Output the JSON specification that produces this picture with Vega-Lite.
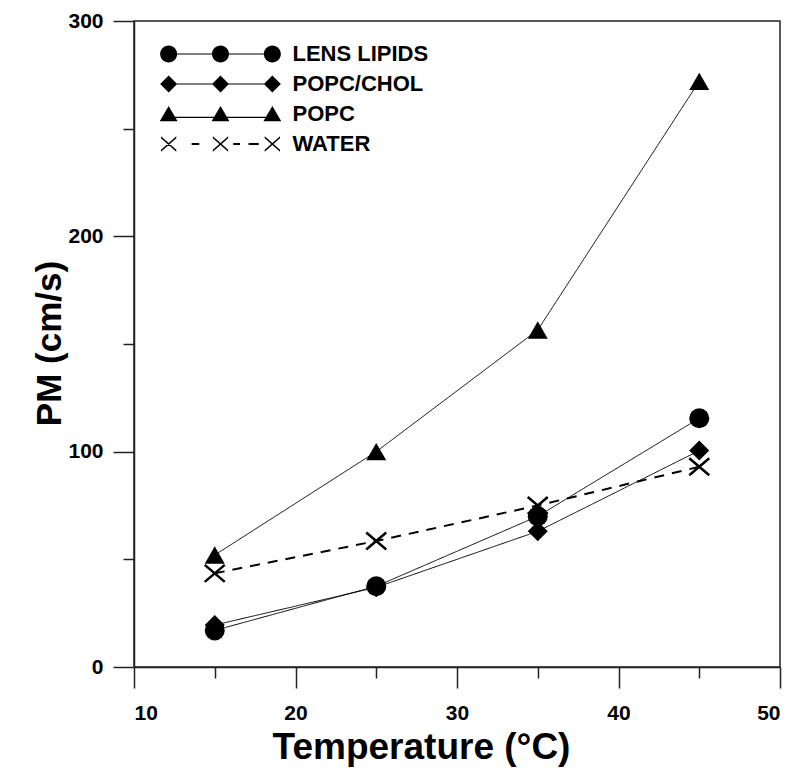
{
  "$schema": "https://vega.github.io/schema/vega-lite/v6.json",
  "width": 646,
  "height": 646,
  "autosize": "none",
  "padding": {"left": 134, "top": 21, "right": 20, "bottom": 105},
  "background": "white",
  "config": {
    "view": {"stroke": "#222222", "strokeWidth": 1.5},
    "font": "Liberation Sans",
    "axis": {
      "domainColor": "#222222", "domainWidth": 1.5,
      "tickColor": "#222222", "tickWidth": 1.5,
      "grid": false,
      "labelFont": "Liberation Sans", "labelFontWeight": "bold", "labelColor": "black", "labelFontSize": 21,
      "titleFont": "Liberation Sans", "titleFontWeight": "bold", "titleColor": "black", "titleFontSize": 35
    }
  },
  "data": {
    "values": [
      {"T": 15, "P": 17, "series": "LENS LIPIDS"},
      {"T": 25, "P": 37.5, "series": "LENS LIPIDS"},
      {"T": 35, "P": 70, "series": "LENS LIPIDS"},
      {"T": 45, "P": 115.5, "series": "LENS LIPIDS"},
      {"T": 15, "P": 19.5, "series": "POPC/CHOL"},
      {"T": 25, "P": 37, "series": "POPC/CHOL"},
      {"T": 35, "P": 63, "series": "POPC/CHOL"},
      {"T": 45, "P": 100.5, "series": "POPC/CHOL"},
      {"T": 15, "P": 52, "series": "POPC"},
      {"T": 25, "P": 100, "series": "POPC"},
      {"T": 35, "P": 156.5, "series": "POPC"},
      {"T": 45, "P": 272, "series": "POPC"},
      {"T": 15, "P": 43.5, "series": "WATER"},
      {"T": 25, "P": 58.5, "series": "WATER"},
      {"T": 35, "P": 75, "series": "WATER"},
      {"T": 45, "P": 93, "series": "WATER"}
    ]
  },
  "layer": [
    {
      "mark": {"type": "point", "opacity": 0},
      "encoding": {
        "x": {"field": "T", "type": "quantitative", "scale": {"domain": [10, 50], "nice": false, "zero": false},
              "axis": {"orient": "bottom", "values": [15, 25, 35, 45], "labels": false, "domain": false, "tickSize": 11, "title": null}},
        "y": {"field": "P", "type": "quantitative", "scale": {"domain": [0, 300], "nice": false},
              "axis": {"orient": "left", "values": [50, 150, 250], "labels": false, "domain": false, "tickSize": 11, "title": null}}
      }
    },
    {
      "encoding": {
        "x": {"field": "T", "type": "quantitative", "scale": {"domain": [10, 50], "nice": false, "zero": false},
              "axis": {"orient": "bottom", "values": [10, 20, 30, 40, 50], "tickSize": 21, "labelPadding": 14,
                       "title": "Temperature (°C)", "titleFontSize": 37, "titleX": 287, "titleY": 91, "titleBaseline": "alphabetic", "titleAnchor": "middle", "titleAlign": "center"}},
        "y": {"field": "P", "type": "quantitative", "scale": {"domain": [0, 300], "nice": false},
              "axis": {"orient": "left", "values": [0, 100, 200, 300], "tickSize": 21, "labelPadding": 10,
                       "title": "PM (cm/s)", "titleX": -74, "titleY": 322, "titleAngle": -90, "titleBaseline": "alphabetic", "titleAlign": "center"}}
      },
      "layer": [
        {
          "mark": {"type": "line", "color": "black"},
          "encoding": {
            "detail": {"field": "series", "type": "nominal"},
            "strokeDash": {"condition": {"test": "datum.series === 'WATER'", "value": [10, 8]}, "value": [1, 0]},
            "strokeWidth": {"condition": {"test": "datum.series === 'WATER'", "value": 2}, "value": 1}
          }
        },
        {
          "mark": {"type": "point", "filled": true, "fill": "black", "stroke": "black", "opacity": 1, "size": 400},
          "encoding": {
            "shape": {"field": "series", "type": "nominal",
                      "scale": {"domain": ["LENS LIPIDS", "POPC/CHOL", "POPC", "WATER"],
                                "range": ["circle", "diamond", "triangle-up", "M-1,-0.85L1,0.85M-1,0.85L1,-0.85"]},
                      "legend": null},
            "strokeWidth": {"condition": {"test": "datum.series === 'WATER'", "value": 2.5}, "value": 0}
          }
        },
        {
          "transform": [{"filter": "datum.T < 0"}],
          "mark": {"type": "point", "filled": true, "fill": "black", "opacity": 1, "size": 289},
          "encoding": {
            "shape": {"field": "series", "type": "nominal",
                      "scale": {"domain": ["LENS LIPIDS", "POPC/CHOL", "POPC", "WATER"],
                                "range": [
                                  "M-5.1,0A1,1,0,1,1,-7.1,0A1,1,0,1,1,-5.1,0ZM1,0A1,1,0,1,1,-1,0A1,1,0,1,1,1,0ZM7.1,0A1,1,0,1,1,5.1,0A1,1,0,1,1,7.1,0ZM-5.15,-0.07L-0.95,-0.07L-0.95,0.07L-5.15,0.07ZM0.95,-0.07L5.15,-0.07L5.15,0.07L0.95,0.07Z",
                                  "M-7.1,0L-6.1,-1L-5.1,0L-6.1,1ZM-1,0L0,-1L1,0L0,1ZM5.1,0L6.1,-1L7.1,0L6.1,1ZM-5.15,-0.07L-0.95,-0.07L-0.95,0.07L-5.15,0.07ZM0.95,-0.07L5.15,-0.07L5.15,0.07L0.95,0.07Z",
                                  "M-6.1,-0.95L-5.05,0.85L-7.15,0.85ZM0,-0.95L1.05,0.85L-1.05,0.85ZM6.1,-0.95L7.15,0.85L5.05,0.85ZM-5.5,0.33L-0.6,0.33L-0.6,0.47L-5.5,0.47ZM0.6,0.33L5.5,0.33L5.5,0.47L0.6,0.47Z",
                                  "M-7,-0.92L-5.2,0.68L-5.2,0.92L-7,-0.68ZM-7,0.68L-5.2,-0.92L-5.2,-0.68L-7,0.92ZM-0.9,-0.92L0.9,0.68L0.9,0.92L-0.9,-0.68ZM-0.9,0.68L0.9,-0.92L0.9,-0.68L-0.9,0.92ZM5.2,-0.92L7,0.68L7,0.92L5.2,-0.68ZM5.2,0.68L7,-0.92L7,-0.68L5.2,0.92ZM-3.4,-0.12L-2.5,-0.12L-2.5,0.12L-3.4,0.12ZM1.5,-0.12L2.3,-0.12L2.3,0.12L1.5,0.12ZM3.3,-0.12L4.5,-0.12L4.5,0.12L3.3,0.12Z"
                                ]},
                      "legend": {
                        "orient": "none", "legendX": 75.5, "legendY": 22, "title": null, "padding": 0,
                        "labelFont": "Liberation Sans", "labelFontWeight": "bold", "labelColor": "black", "labelFontSize": 22,
                        "labelOffset": 61, "rowPadding": 8, "symbolSize": 289,
                        "symbolFillColor": "black", "symbolStrokeColor": "black", "symbolStrokeWidth": 0, "symbolOpacity": 1
                      }}
          }
        }
      ],
      "resolve": {"scale": {"shape": "independent"}, "legend": {"shape": "independent"}}
    }
  ],
  "resolve": {"scale": {"x": "independent", "y": "independent"}}
}
